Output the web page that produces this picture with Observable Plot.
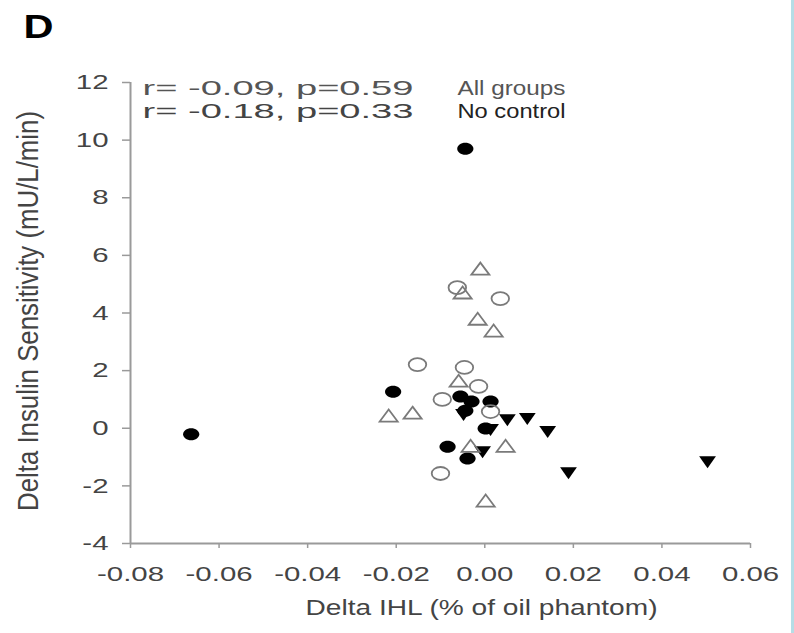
<!DOCTYPE html>
<html>
<head>
<meta charset="utf-8">
<script src="https://cdn.jsdelivr.net/npm/d3@7"></script>
<script src="https://cdn.jsdelivr.net/npm/@observablehq/plot@0.6"></script>
<style>
  html, body { margin: 0; padding: 0; background: white; }
  #wrap { position: relative; width: 794px; height: 633px; overflow: hidden; background: white; }
  #stripe { position: absolute; right: 0; top: 0; width: 3px; height: 633px; background: #b6dde6; }
</style>
</head>
<body>
<div id="wrap"><div id="stripe"></div></div>
<script>
// ---- data ----
const panelLetter = "D";
const xLabel = "Delta IHL (% of oil phantom)";
const yLabel = "Delta Insulin Sensitivity (mU/L/min)";
const statAll = "r= -0.09, p=0.59";
const statAllName = "All groups";
const statNoCtrl = "r= -0.18, p=0.33";
const statNoCtrlName = "No control";

const xTicks = [-0.08, -0.06, -0.04, -0.02, 0.00, 0.02, 0.04, 0.06];
const yTicks = [-4, -2, 0, 2, 4, 6, 8, 10, 12];

// filled circles
const filledCircleX = [-0.0044, -0.0663, -0.0207, -0.0084, -0.0039, -0.0055, -0.0030, 0.0013, -0.0044, 0.0002];
const filledCircleY = [9.70, -0.21, 1.27, -0.64, -1.05, 1.10, 0.93, 0.93, 0.61, -0.01];
// open circles
const openCircleX = [-0.0062, 0.0035, -0.0152, -0.0046, -0.0014, -0.0096, 0.0013, -0.0100];
const openCircleY = [4.88, 4.50, 2.21, 2.11, 1.45, 1.00, 0.58, -1.57];
// open triangles (up)
const openTriX = [-0.0010, -0.0050, -0.0016, 0.0020, -0.0217, -0.0163, 0.0047, 0.0002, -0.0059, -0.0032];
const openTriY = [5.51, 4.68, 3.77, 3.36, 0.41, 0.51, -0.64, -2.54, 1.62, -0.64];
// filled triangles (down)
const downTriX = [0.0051, 0.0096, 0.0142, 0.0189, 0.0503, -0.0005, -0.0048, 0.0013];
const downTriY = [0.30, 0.34, -0.11, -1.54, -1.16, -0.81, 0.48, -0.04];

const toRows = (xs, ys) => xs.map((x, i) => ({x, y: ys[i]}));

// ---- custom (horizontally stretched) symbols ----
const SX = 1.35;
const ellipse = {draw(ctx, size) {
  const r = Math.sqrt(size / Math.PI), rx = r * SX, ry = r, k = 0.5523;
  ctx.moveTo(rx, 0);
  ctx.bezierCurveTo(rx, ry * k, rx * k, ry, 0, ry);
  ctx.bezierCurveTo(-rx * k, ry, -rx, ry * k, -rx, 0);
  ctx.bezierCurveTo(-rx, -ry * k, -rx * k, -ry, 0, -ry);
  ctx.bezierCurveTo(rx * k, -ry, rx, -ry * k, rx, 0);
  ctx.closePath();
}};
const triUp = {draw(ctx, size) {
  const r = Math.sqrt(size / Math.PI);
  ctx.moveTo(0, -1.15 * r);
  ctx.lineTo(1.5 * r, 0.85 * r);
  ctx.lineTo(-1.5 * r, 0.85 * r);
  ctx.closePath();
}};
const triDown = {draw(ctx, size) {
  const r = Math.sqrt(size / Math.PI);
  ctx.moveTo(0, 1.1 * r);
  ctx.lineTo(1.4 * r, -0.9 * r);
  ctx.lineTo(-1.4 * r, -0.9 * r);
  ctx.closePath();
}};

const axisColor = "#9a9a9a";
const textColor = "#444";

const chart = Plot.plot({
  width: 791,
  height: 633,
  marginLeft: 130,
  marginRight: 41,
  marginTop: 82,
  marginBottom: 90,
  x: {domain: [-0.08, 0.06]},
  y: {domain: [-4, 12]},
  style: {fontFamily: "'Liberation Sans', Arial, sans-serif", fontSize: "21px", background: "white", color: textColor},
  marks: [
    Plot.ruleX([-0.08], {stroke: axisColor, strokeWidth: 2}),
    Plot.ruleY([-4], {stroke: axisColor, strokeWidth: 2}),
    Plot.axisY(yTicks, {tickSize: 8, tickPadding: 14, tickFormat: d => String(d), stroke: axisColor, strokeWidth: 1.5, fill: textColor, label: null}),
    Plot.axisX(xTicks, {tickSize: 5, tickPadding: 18, tickFormat: d => d.toFixed(2), stroke: axisColor, strokeWidth: 1.5, fill: textColor, label: null}),
    Plot.dot(toRows(filledCircleX, filledCircleY), {x: "x", y: "y", r: 6, symbol: ellipse, fill: "#000", stroke: "none"}),
    Plot.dot(toRows(downTriX, downTriY), {x: "x", y: "y", r: 6, symbol: triDown, fill: "#000", stroke: "none"}),
    Plot.dot(toRows(openCircleX, openCircleY), {x: "x", y: "y", r: 6.5, symbol: ellipse, fill: "none", stroke: "#7a7a7a", strokeWidth: 1.8}),
    Plot.dot(toRows(openTriX, openTriY), {x: "x", y: "y", r: 6, symbol: triUp, fill: "none", stroke: "#7a7a7a", strokeWidth: 1.8}),
    Plot.text([statAll], {frameAnchor: "top-left", dx: 12, dy: -2, lineAnchor: "top", textAnchor: "start", fill: "#555", fontSize: 21}),
    Plot.text([statAllName], {frameAnchor: "top-left", dx: 327, dy: -2, lineAnchor: "top", textAnchor: "start", fill: "#555", fontSize: 21}),
    Plot.text([statNoCtrl], {frameAnchor: "top-left", dx: 12, dy: 21, lineAnchor: "top", textAnchor: "start", fill: "#444", fontSize: 21}),
    Plot.text([statNoCtrlName], {frameAnchor: "top-left", dx: 327, dy: 21, lineAnchor: "top", textAnchor: "start", fill: "#222", fontSize: 21}),
    Plot.text([panelLetter], {frameAnchor: "top-left", dx: -107, dy: -69, lineAnchor: "top", textAnchor: "start", fill: "#000", fontSize: 34, fontWeight: "bold"}),
    Plot.text([xLabel], {frameAnchor: "bottom", dx: 41, dy: 64, lineAnchor: "middle", textAnchor: "middle", fill: textColor, fontSize: 22}),
    Plot.text([yLabel], {frameAnchor: "left", dx: -102, dy: -2, rotate: -90, lineAnchor: "middle", textAnchor: "middle", fill: textColor, fontSize: 30})
  ]
});

document.getElementById("wrap").prepend(chart);

// stretch text horizontally like the (horizontally stretched) reference image
const targetWidths = new Map([
  [statAll, 271], [statNoCtrl, 271], [statAllName, 108], [statNoCtrlName, 108],
  [panelLetter, 30], [xLabel, 352], [yLabel, 400]
]);
chart.querySelectorAll("text").forEach(t => {
  const s = t.textContent;
  const len = t.getComputedTextLength();
  const target = targetWidths.has(s) ? targetWidths.get(s) : len * 1.4;
  t.setAttribute("textLength", target);
  t.setAttribute("lengthAdjust", "spacingAndGlyphs");
});
</script>
</body>
</html>
